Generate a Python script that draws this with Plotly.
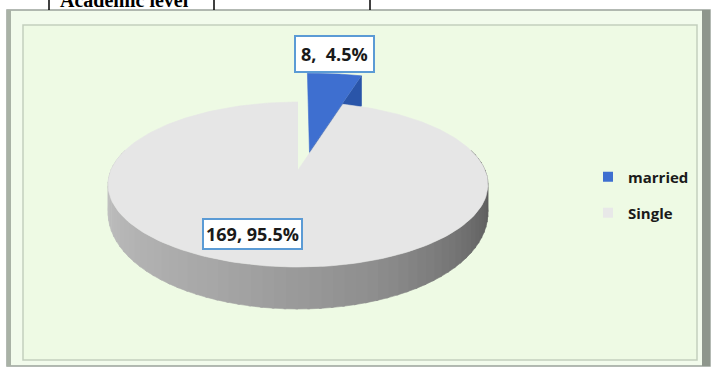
import numpy as np
import plotly.graph_objects as go

# ---------------- data ----------------
categories = ["married", "Single"]
values = [8, 169]
header_text = "Academic level"

# ---------------- style ----------------
top_colors = ["#3E6FD0", "#E6E6E6"]
side_colors = ["#2A55A9", None]
legend_colors = ["#3E6FD0", "#E8E8E8"]
label_font = dict(family="Open Sans", size=18, color="#1A1A1A", weight="bold")

W, H = 711, 368
# perspective pie geometry (pixel space)
CX, CY = 298, 170
A, C, RX = 50.07, -0.1758, 187
T0, T1 = 25, 17          # side thickness
EXPLODE = [0.24, 0.0]
RADIUS = [1.3, 1.0]      # apparent radius of each slice (exploded one drawn larger, as in the 3-D view)
EXTRA_U = [0.03, 0.0]


def proj(u, v, drop=0.0):
    w = 1 + C * v
    x = CX + RX * u / w
    y = (A * v + CY) / w + drop
    return x, y


def thick(v):
    return T0 + T1 * v


total = sum(values)
pcts = [v / total * 100 for v in values]
labels = [f"{v}, {p:>4.1f}%" for v, p in zip(values, pcts)]
ends = np.cumsum(values) / total * 360
starts = np.concatenate([[0], ends[:-1]])

fig = go.Figure()


def poly(xs, ys, color):
    fig.add_trace(go.Scatter(x=xs, y=ys, mode="lines", fill="toself",
                             fillcolor=color, line=dict(color=color, width=0.6),
                             hoverinfo="skip", showlegend=False))


def offset(k):
    mid = np.radians((starts[k] + ends[k]) / 2)
    return EXPLODE[k] * np.sin(mid) + EXTRA_U[k], -EXPLODE[k] * np.cos(mid)


def rim(k, t):
    ou, ov = offset(k)
    return ou + RADIUS[k] * np.sin(t), ov - RADIUS[k] * np.cos(t)


def arc(k, a, b, n, drop=False):
    th = np.radians(np.linspace(a, b, n))
    pts = []
    for t in th:
        u, v = rim(k, t)
        pts.append(proj(u, v, thick(v) if drop else 0.0))
    return [p[0] for p in pts], [p[1] for p in pts]


# ---- married slice (behind, exploded) ----
k = 0
ou, ov = offset(k)
b = np.radians(ends[k])
ru, rv = rim(k, b)
face_drop = 30
c_top = proj(ou, ov)
c_bot = proj(ou, ov, face_drop)
r_top = proj(ru, rv)
r_bot = proj(ru, rv, face_drop)
poly([c_top[0], r_top[0], r_bot[0], c_bot[0]],
     [c_top[1], r_top[1], r_bot[1], c_bot[1]], side_colors[k])
ax_, ay_ = arc(k, starts[k], ends[k], 30)
poly([c_top[0]] + ax_, [c_top[1]] + ay_, top_colors[k])

# ---- Single slice side wall with shading ----
k = 1
shade_ang = [75, 90, 120, 160, 200, 250, 285]
shade_val = [0x50, 0x54, 0x6A, 0x8E, 0xA6, 0xBC, 0xC8]
step = 3
a0 = max(starts[k], 75)
a1 = min(ends[k], 285)
for t in np.arange(a0, a1, step):
    t2 = min(t + step + 0.6, a1)
    xt, yt = arc(k, t, t2, 4)
    xb, yb = arc(k, t, t2, 4, drop=True)
    g = int(np.interp(t + step / 2, shade_ang, shade_val))
    poly(xt + xb[::-1], yt + yb[::-1], f"rgb({g},{g},{g})")

ou, ov = offset(k)
c_top = proj(ou, ov)
ax_, ay_ = arc(k, starts[k], ends[k], 240)
poly([c_top[0]] + ax_, [c_top[1]] + ay_, top_colors[k])

# ---- legend entries ----
for i, cat in enumerate(categories):
    fig.add_trace(go.Scatter(x=[None], y=[None], mode="markers", name=cat,
                             marker=dict(symbol="square", size=10, color=legend_colors[i],
                                         line=dict(width=0)),
                             legend="legend" if i == 0 else "legend2",
                             showlegend=True))


# ---- data labels ----
def lab_pos(k, theta, r):
    ou, ov = offset(k)
    t = np.radians(theta)
    return proj(ou + r * np.sin(t), ov - r * np.cos(t))


mx, my = lab_pos(0, (starts[0] + ends[0]) / 2, RADIUS[0])
sx, sy = lab_pos(1, 197, 0.73)
annos = [
    dict(x=mx, y=my, text=labels[0], xshift=0, yshift=20, borderpad=5),
    dict(x=sx, y=sy, text=labels[1], borderpad=2),
]
annotations = []
for a in annos:
    a.update(xref="x", yref="y", showarrow=False, font=label_font,
             bgcolor="white", bordercolor="#5B9BD5", borderwidth=2)
    annotations.append(a)

annotations.append(dict(x=124, y=0, xref="x", yref="y", text=header_text, showarrow=False,
                        font=dict(family="Liberation Serif", size=20, color="black", weight="bold"),
                        yanchor="middle"))

# ---- frame shapes ----
shapes = [
    dict(type="rect", x0=7, y0=10, x1=710, y1=366, fillcolor="#F2FBEC",
         line=dict(color="#9AA39A", width=1.5), layer="below"),
    dict(type="rect", x0=7, y0=10, x1=11, y1=366, fillcolor="#A9B2A6",
         line=dict(width=0), layer="below"),
    dict(type="rect", x0=702, y0=10, x1=710, y1=366, fillcolor="#8E968C",
         line=dict(width=0), layer="below"),
    dict(type="rect", x0=23, y0=25, x1=697, y1=360, fillcolor="#EEFAE4",
         line=dict(color="#C3CFBD", width=1.5), layer="below"),
]
for xv in [49, 214, 370]:
    shapes.append(dict(type="line", x0=xv, x1=xv, y0=0, y1=10,
                       line=dict(color="black", width=1.5), layer="below"))

legend_font = dict(family="Open Sans", size=15, color="#1A1A1A", weight="bold")
fig.update_layout(
    width=W, height=H, autosize=False,
    margin=dict(l=0, r=0, t=0, b=0, pad=0),
    paper_bgcolor="white", plot_bgcolor="rgba(0,0,0,0)",
    xaxis=dict(range=[0, W], visible=False, fixedrange=True),
    yaxis=dict(range=[H, 0], visible=False, fixedrange=True),
    shapes=shapes, annotations=annotations,
    legend=dict(x=588 / W, y=1 - 177 / H, xanchor="left", yanchor="middle",
                bgcolor="rgba(0,0,0,0)", itemwidth=30, font=legend_font),
    legend2=dict(x=588 / W, y=1 - 213 / H, xanchor="left", yanchor="middle",
                 bgcolor="rgba(0,0,0,0)", itemwidth=30, font=legend_font),
    showlegend=True,
)

fig.write_html("out.html")
